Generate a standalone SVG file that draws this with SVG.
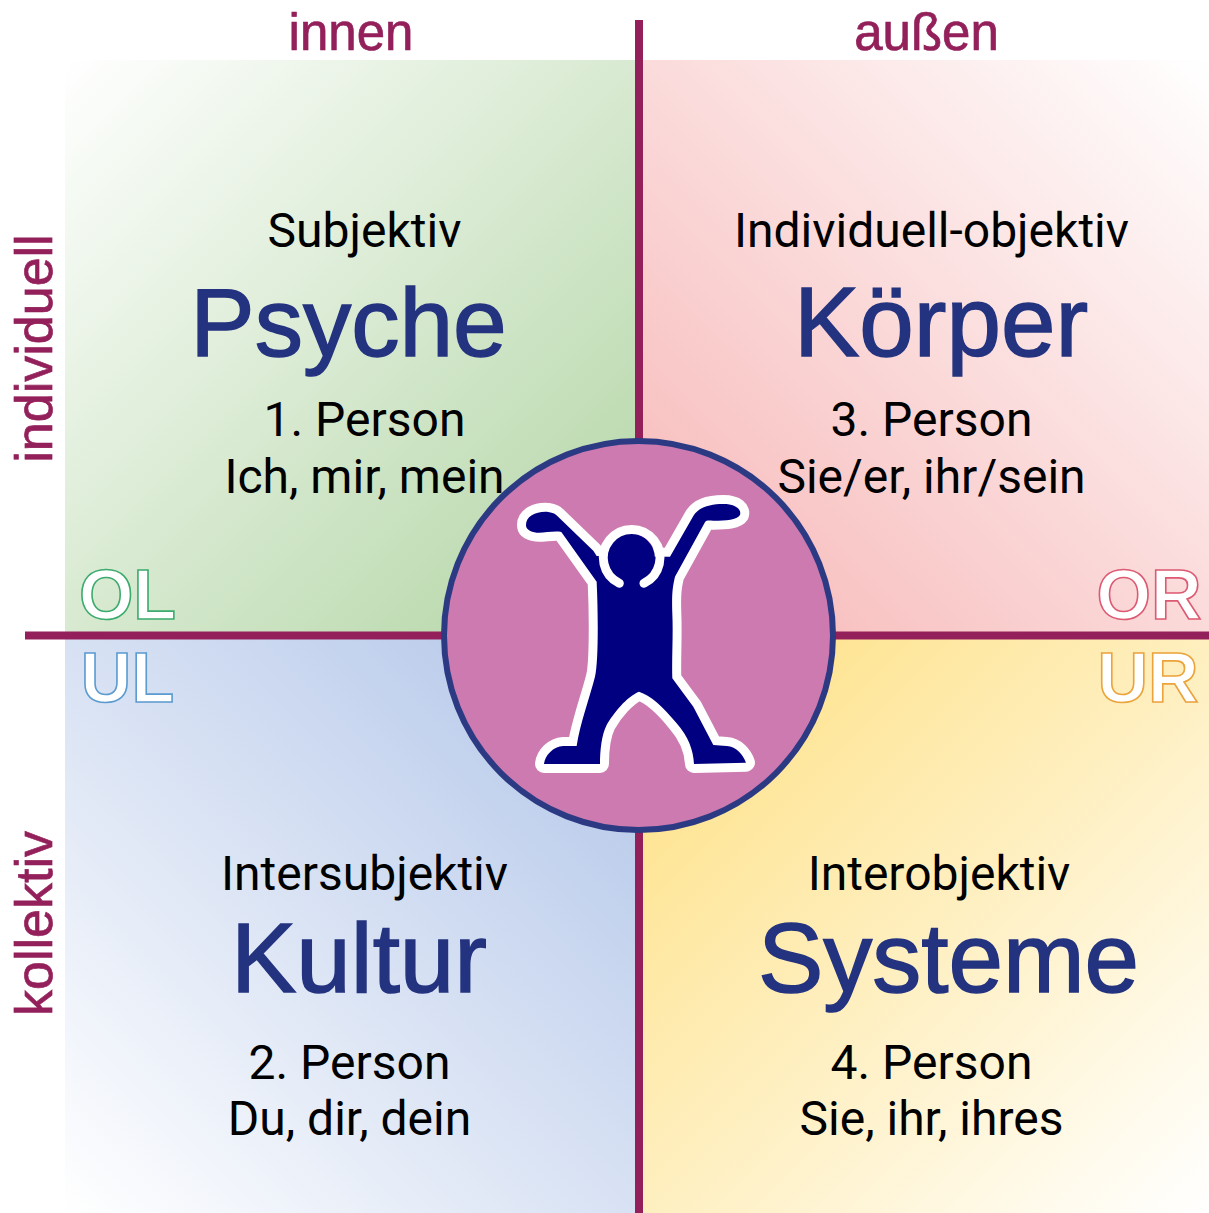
<svg xmlns="http://www.w3.org/2000/svg" width="1209" height="1213" viewBox="0 0 1209 1213">
<style>
.t{font-family:Roboto,"Liberation Sans",sans-serif;font-size:48px;fill:#000;text-anchor:middle}
.h{font-family:"Liberation Sans",Arial,sans-serif;font-size:98px;fill:#24337f;stroke:#24337f;stroke-width:1.5px;text-anchor:middle}
.a{font-family:"Liberation Sans",Arial,sans-serif;font-size:51px;fill:#93205a;stroke:#93205a;stroke-width:.7px;text-anchor:middle}
.v{font-size:52px}
.c{font-family:"Liberation Sans",sans-serif;font-weight:bold;font-size:70px;fill:#fff;stroke-width:1.6px;text-anchor:middle}
.ax{stroke:#93205a;stroke-width:8;fill:none}
</style>
<defs>
<linearGradient id="gOL" x1="65" y1="60" x2="636" y2="635" gradientUnits="userSpaceOnUse"><stop offset="0" stop-color="#fff"/><stop offset="1" stop-color="#b0d4a2"/></linearGradient>
<linearGradient id="gOR" x1="1209" y1="60" x2="640" y2="635" gradientUnits="userSpaceOnUse"><stop offset="0" stop-color="#fff"/><stop offset="1" stop-color="#f7b5b5"/></linearGradient>
<linearGradient id="gUL" x1="65" y1="1213" x2="636" y2="640" gradientUnits="userSpaceOnUse"><stop offset="0" stop-color="#fff"/><stop offset="1" stop-color="#b0c4e8"/></linearGradient>
<linearGradient id="gUR" x1="1209" y1="1213" x2="640" y2="640" gradientUnits="userSpaceOnUse"><stop offset="0" stop-color="#fff"/><stop offset="1" stop-color="#fedf7f"/></linearGradient>
</defs>
<g id="quadrant-ol"><rect x="65" y="60" width="572" height="575" fill="url(#gOL)"/>
<text class="t" x="364.500" y="247">Subjektiv</text><text class="h" style="font-size:96.500px" x="348.500" y="356">Psyche</text><text class="t" x="364.500" y="436">1. Person</text><text class="t" x="364.500" y="493">Ich, mir, mein</text>
<text class="c" x="127.500" y="618.500" stroke="#3dab6e">OL</text></g>
<g id="quadrant-or"><rect x="640" y="60" width="569" height="575" fill="url(#gOR)"/>
<text class="t" x="931.500" y="247">Individuell-objektiv</text><text class="h" x="941" y="356">Körper</text><text class="t" x="931.500" y="436">3. Person</text><text class="t" x="931.500" y="493">Sie/er, ihr/sein</text>
<text class="c" x="1149" y="618.500" stroke="#dc5a72">OR</text></g>
<g id="quadrant-ul"><rect x="65" y="635" width="572" height="578" fill="url(#gUL)"/>
<text class="t" x="364.500" y="890">Intersubjektiv</text><text class="h" x="359" y="992">Kultur</text><text class="t" x="349.500" y="1079">2. Person</text><text class="t" x="349.500" y="1135">Du, dir, dein</text>
<text class="c" x="127.500" y="702" stroke="#5b9bd0">UL</text></g>
<g id="quadrant-ur"><rect x="640" y="635" width="569" height="578" fill="url(#gUR)"/>
<text class="t" x="939" y="890">Interobjektiv</text><text class="h" x="948.500" y="992">Systeme</text><text class="t" x="931.500" y="1079">4. Person</text><text class="t" x="931.500" y="1135">Sie, ihr, ihres</text>
<text class="c" x="1148" y="702" stroke="#eba33c">UR</text></g>
<g id="connectors"><path class="ax" d="M639 20V1213"/><path class="ax" d="M25 635.500H1209"/></g>
<g id="axis-labels">
<text class="a" x="351" y="50">innen</text><text class="a" x="926.500" y="50">außen</text>
<text class="a v" transform="translate(52 348.500) rotate(-90)">individuell</text>
<text class="a v" transform="translate(52 923.500) rotate(-90)">kollektiv</text>
</g>
<g id="center"><circle cx="638.500" cy="635.500" r="194.500" fill="#cc7ab0" stroke="#2c3a83" stroke-width="6"/>
<g transform="translate(440 430) scale(.3333)">
<path fill="#000080" stroke="#fff" stroke-width="54" stroke-linejoin="round" paint-order="stroke" d="M258 285C258 258 290 243 325 246C340 248 347 252 352 258L460 362L470 378L690 380L760 258C775 232 810 222 850 222C890 222 905 240 900 255C890 270 860 272 820 272C805 272 800 270 795 277L705 440C698 470 695 490 697 550C700 620 695 680 697 745L760 830L820 945L860 948C890 950 910 975 918 998L762 1002C760 960 745 920 710 880C670 830 630 795 597 785C560 800 520 850 500 885C485 915 480 960 480 1002L312 1002C315 975 340 950 370 948L410 948C420 880 450 800 465 740C475 700 475 560 470 455L364 306C340 302 310 310 290 308C270 305 258 298 258 285Z"/>
<circle cx="570" cy="385" r="75" fill="#000080"/>
<path d="M538 460A85 85 0 1 1 612 460" fill="none" stroke="#fff" stroke-width="27" stroke-linecap="round"/>
</g></g>
</svg>
